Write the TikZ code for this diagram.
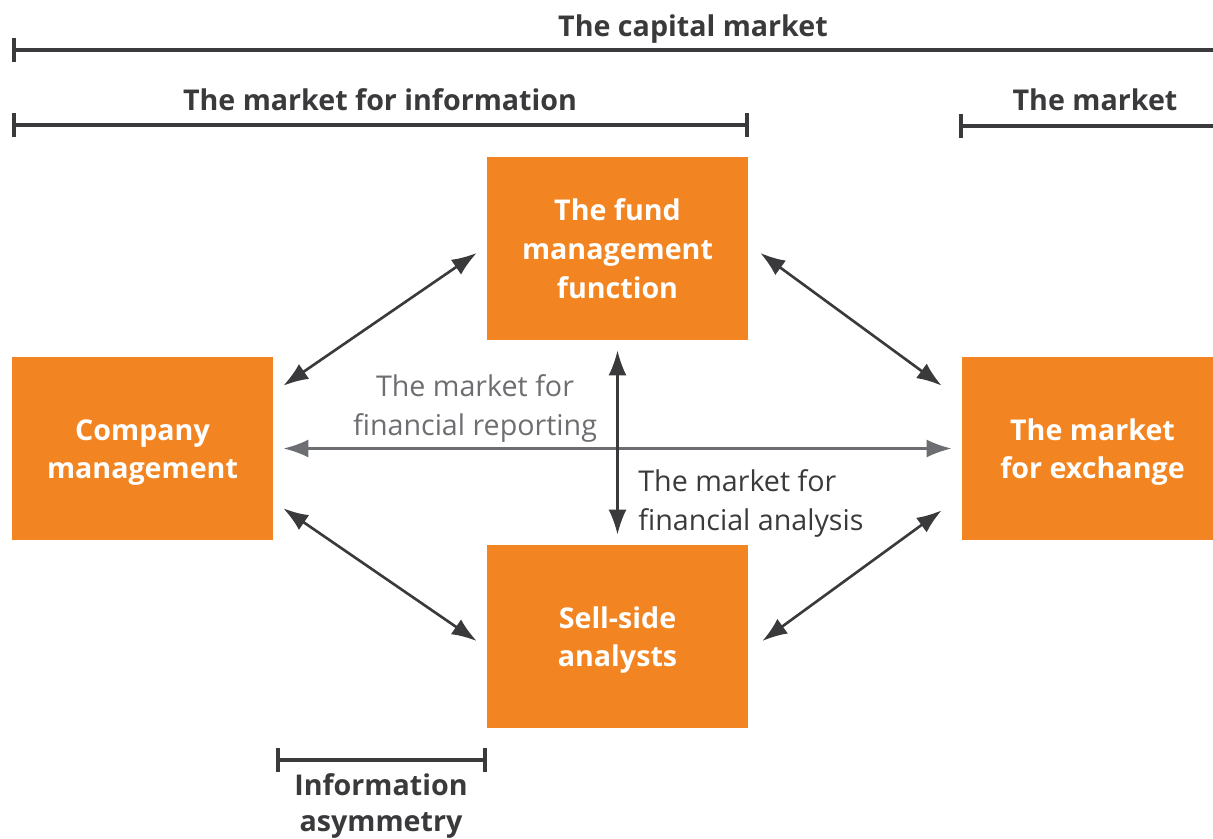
\documentclass[tikz,border=0pt]{standalone}
\usepackage{fontspec}
\setmainfont{Open Sans}
\usetikzlibrary{arrows.meta,calc}
\definecolor{boxorange}{HTML}{F28522}
\definecolor{darkline}{HTML}{3A3A3C}
\definecolor{grayline}{HTML}{6D6E71}
\tikzset{
  box/.style={fill=boxorange, draw=none, minimum width=5.22cm, minimum height=3.66cm, inner sep=0pt,
    text=white, font=\bfseries\fontsize{16.3}{22.1}\selectfont, align=center},
  head/.style={text=darkline, font=\bfseries\fontsize{16.3}{20}\selectfont, anchor=base, inner sep=0pt},
  bar/.style={draw=darkline, line width=2.2pt},
  dbl/.style={draw=darkline, line width=1.5pt, {Latex[length=0.5cm,width=0.36cm]}-{Latex[length=0.5cm,width=0.36cm]}},
  gdbl/.style={draw=grayline, line width=1.5pt, {Latex[length=0.5cm,width=0.36cm]}-{Latex[length=0.5cm,width=0.36cm]}},
  lbl/.style={font=\fontsize{16.3}{22.1}\selectfont, inner sep=0pt, align=left}
}
\begin{document}
\begin{tikzpicture}[x=0.02cm,y=-0.02cm]
\useasboundingbox (0,0) rectangle (1213,838);
% boxes
\node[box] (fund) at (617.5,248.5) {The fund\\management\\function};
\node[box] (comp) at (142.5,448.5) {\rule{0pt}{0.58cm}Company\\management};
\node[box, minimum width=5.02cm] (exch) at (1087.5,448.5) {\rule{0pt}{0.58cm}\hspace*{0.2cm}The market\\\hspace*{0.2cm}for exchange};
\node[box] (sell) at (617.5,636.5) {\rule{0pt}{0.58cm}Sell-side\\analysts};
% brackets
\coordinate (capL) at (14,50);
\coordinate (capR) at (1213,50);
\draw[bar] (capL) -- (capR);
\draw[bar] ([yshift=0.24cm]capL) -- ([yshift=-0.24cm]capL);
\node[head] (capT) at (693,37) {The capital market};
\coordinate (infL) at (14,125);
\coordinate (infR) at (747,125);
\draw[bar] (infL) -- (infR);
\draw[bar] ([yshift=0.24cm]infL) -- ([yshift=-0.24cm]infL);
\draw[bar] ([yshift=0.24cm]infR) -- ([yshift=-0.24cm]infR);
\node[head] (infT) at (380,111) {The market for information};
\coordinate (mkL) at (961,126);
\coordinate (mkR) at (1213,126);
\draw[bar] (mkL) -- (mkR);
\draw[bar] ([yshift=0.24cm]mkL) -- ([yshift=-0.24cm]mkL);
\node[head] (mkT) at (1095,111) {The market};
\coordinate (asL) at (278,760);
\coordinate (asR) at (485,760);
\draw[bar] (asL) -- (asR);
\draw[bar] ([yshift=0.24cm]asL) -- ([yshift=-0.24cm]asL);
\draw[bar] ([yshift=0.24cm]asR) -- ([yshift=-0.24cm]asR);
\node[head, anchor=north, align=center, font=\bfseries\fontsize{16.3}{20.6}\selectfont] (asT) at (381,773) {Information\\asymmetry};
% connectors
\draw[dbl] ([shift={(-10,4.5)}]fund.west) -- ([shift={(10,29)}]comp.north east);
\draw[dbl] ([shift={(12,4.5)}]fund.east) -- ([shift={(-20,29)}]exch.north west);
\draw[dbl] ([shift={(10,-32)}]comp.south east) -- ([shift={(-10,4.5)}]sell.west);
\draw[dbl] ([shift={(-20,-30)}]exch.south west) -- ([shift={(14,4.5)}]sell.east);
\draw[gdbl] ([shift={(10,0)}]comp.east) -- ([shift={(-10,0)}]exch.west);
\draw[dbl] ([shift={(0,10)}]fund.south) -- ([shift={(0,-10)}]sell.north);
% labels
\node[lbl, text=grayline, anchor=north, align=center] (rep) at (475,374) {The market for\\financial reporting};
\node[lbl, text=darkline, anchor=north west] (ana) at (638,469) {The market for\\financial analysis};
\end{tikzpicture}
\end{document}
